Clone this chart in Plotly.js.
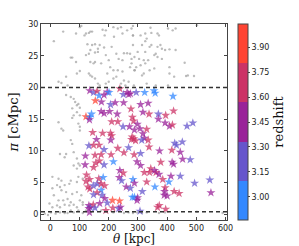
<!DOCTYPE html>
<html><head><meta charset="utf-8">
<script src="https://cdn.plot.ly/plotly-3.0.1.min.js"></script>
<style>html,body{margin:0;padding:0;background:#fff}</style>
</head><body>
<div id="chart" style="width:299px;height:246px"></div>
<script>
// Background (gray) sample: theta [kpc], pi [cMpc]
const grayTheta = [12,44,101,106,88,117,122,132,137,143,179,186,190,216,218,231,242,247,263,283,278,127,143,153,163,169,184,137,153,163,70,75,122,132,88,137,148,153,174,190,200,210,226,234,252,263,273,278,289,278,273,247,101,91,54,28,38,59,132,137,143,153,163,169,190,200,216,226,242,252,257,268,205,216,231,247,195,54,70,80,85,91,75,101,96,91,80,75,101,
283,283,309,325,346,343,367,372,403,419,429,502,283,314,325,330,340,346,367,377,382,393,408,429,299,325,356,361,367,288,304,320,335,382,325,309,294,288,340,356,320,314,408,460,408,424,465,471,492,286,330,361,403,
28,44,38,70,75,101,101,96,33,49,54,80,91,96,101,91,80,7,28,38,23,33,49,65,70,91,96,111,38,54,75,91,106,12,28,44,59,70,101,111,-3,7,23,33,49,65,80,91,111,-19,-8,2,18,33,49,59,70,80,96,111,122,174,216,252,268,7,283,297,314,330,372,393,502,590];
const grayPi = [27.3,28.8,29.5,29.7,28.5,28.2,28.5,28.6,28.8,28.8,29.1,28.2,29.0,29.5,28.0,29.3,29.5,28.5,29.0,28.2,29.3,26.8,26.7,26.8,26.1,26.7,26.3,25.9,25.5,25.6,24.7,24.7,25.1,25.3,24.0,24.0,23.8,24.0,23.8,25.1,24.3,26.4,25.3,24.5,25.4,25.4,25.3,24.5,22.7,23.8,23.2,24.3,22.6,22.2,21.7,20.9,20.7,20.3,22.2,21.9,21.7,21.4,20.6,20.3,20.6,20.9,21.4,21.7,20.6,21.1,20.3,20.9,23.2,22.7,22.7,22.5,22.2,18.8,18.5,18.2,17.7,17.2,16.7,16.8,17.4,16.1,15.6,15.2,15.6,
29.7,28.2,28.2,28.5,28.6,29.4,28.5,28.2,29.3,29.0,29.3,29.8,26.7,26.7,27.3,27.7,26.4,26.7,26.4,26.7,26.1,25.9,26.0,25.9,25.6,25.6,25.1,25.3,24.8,24.8,24.5,24.3,24.3,24.5,23.8,23.5,23.2,22.7,22.7,23.0,22.2,21.9,23.2,23.9,22.2,21.7,21.8,21.9,21.8,20.3,20.6,20.3,20.3,
14.5,13.2,13.5,11.7,11.1,13.8,13.2,14.3,9.5,9.0,9.5,9.8,8.8,8.0,7.7,7.2,7.7,5.9,5.6,5.3,4.6,4.3,4.6,4.8,5.3,5.1,5.9,5.6,3.8,3.5,3.2,3.5,3.0,3.0,2.2,2.2,2.4,1.9,2.2,1.9,1.7,1.1,1.4,1.1,1.5,1.4,1.5,1.1,1.5,0.1,-0.1,0.3,0.1,0.3,0.2,0.2,0.6,0.3,0.6,0.2,0.6,0.6,0.3,0.2,0.3,4.1,0.2,0.3,0.2,0.3,0.2,0.3,0.4,0.2];

// Selected pairs: theta [kpc], pi [cMpc], redshift
const starTheta = [135,148,160,167,184,195,201,154,175,206,222,238,250,263,268,274,251,276,174,184,203,229,122,135,141,281,294,
323,355,359,420,309,335,317,338,370,395,422,370,
468,488,393,408,418,426,432,452,416,445,374,378,417,422,453,479,344,362,413,385,445,406,494,546,358,330,393,391,424,441,390,400,550,373,367,395,
285,288,298,307,317,330,322,335,280,286,292,313,338,287,309,297,309,322,340,357,372,283,288,315,288,299,297,307,
134,210,231,249,271,206,210,145,179,158,132,148,167,184,207,231,268,278,120,153,174,208,216,252,119,156,168,184,148,238,250,124,166,181,122,135,161,174,186,236,244,260,274,281,129,135,147,174,160,148,177,186,195,213,237,169,132,137,147,132,153,190,214,234,240,134];
const starPi = [19.5,19.2,19.4,18.7,18.8,19.3,19.2,17.9,17.7,17.3,17.6,19.8,18.9,19.2,18.9,19.0,17.6,16.6,16.2,15.9,16.2,15.8,15.4,15.3,15.8,15.3,19.2,
19.2,19.5,19.1,18.6,17.3,17.5,16.1,15.8,15.8,15.6,16.3,15.0,
13.9,14.4,14.4,13.9,14.1,11.2,10.9,11.4,10.1,9.8,10.0,8.2,8.2,7.9,8.7,8.6,7.2,6.6,6.0,5.5,6.0,5.1,4.9,5.4,4.3,5.1,4.2,3.6,3.6,3.3,3.0,2.9,3.4,1.4,1.1,0.8,
14.7,13.3,14.2,13.5,12.7,13.4,12.0,11.7,12.2,11.9,11.6,11.7,10.6,9.4,9.6,8.3,7.7,6.6,6.6,6.9,6.3,5.5,4.9,3.6,2.7,2.6,2.2,0.5,
14.9,14.6,14.6,13.8,13.8,12.8,12.4,12.9,12.8,11.8,10.8,10.9,10.9,10.2,11.7,10.4,10.5,11.8,9.2,9.3,9.4,9.4,8.3,9.7,7.8,8.1,8.4,7.8,7.4,6.9,6.5,6.2,5.6,5.8,5.2,5.5,4.8,4.8,4.5,5.8,5.3,4.3,4.1,2.7,4.3,4.0,4.5,3.8,3.4,3.1,3.0,2.5,1.8,2.2,2.1,1.7,1.4,1.1,1.5,0.9,1.0,0.6,1.0,0.9,1.1,0.3];
const starZ = [3.45,3.2,3.7,2.95,3.45,3.45,2.95,3.95,3.45,3.2,3.45,3.7,3.2,3.45,3.45,3.45,3.45,3.7,3.45,3.45,3.45,3.45,3.95,2.95,2.95,3.7,3.2,
2.95,2.95,2.95,2.95,3.45,3.45,3.45,3.7,3.2,3.7,3.7,3.45,
3.2,3.2,3.45,3.45,3.7,3.2,3.2,3.2,3.7,3.45,3.45,3.7,3.45,3.45,3.45,3.2,3.7,3.7,3.45,3.7,3.2,2.95,3.2,3.2,2.95,3.7,3.7,3.45,3.7,3.7,3.45,3.45,3.45,3.7,3.7,3.7,
3.7,3.45,3.45,3.45,3.45,3.7,3.45,3.7,3.7,3.7,3.7,3.2,3.7,3.7,3.2,3.45,3.45,3.7,3.7,3.45,3.45,2.95,3.45,3.2,2.95,3.45,3.45,3.2,
3.45,3.7,3.7,3.2,3.45,3.7,3.7,3.7,3.7,3.45,3.2,3.7,3.7,3.2,3.45,3.7,3.2,3.7,3.45,3.7,3.7,3.7,2.95,3.7,3.45,3.7,3.7,3.2,3.7,3.45,3.7,3.7,3.7,2.95,3.7,3.7,3.2,3.7,3.7,3.45,3.2,3.45,3.2,2.95,3.7,3.7,3.2,2.95,3.7,3.2,3.2,3.45,3.2,3.95,3.95,3.45,3.45,3.2,3.7,3.45,3.2,3.7,3.7,3.2,3.45,3.45];

const cutPi = [20, 0.4];
const zTicks = [3.00,3.15,3.30,3.45,3.60,3.75,3.90];
const zTickText = ['3.00','3.15','3.30','3.45','3.60','3.75','3.90'];
const xTicks = [0,100,200,300,400,500,600];
const yTicks = [0,5,10,15,20,25,30];

const bandColors = ['#3388ff','#6655cc','#992299','#cc3366','#ff4433'];
const cs = [];
bandColors.forEach((c,i)=>{cs.push([i/5,c]);cs.push([(i+1)/5,c]);});

const serif = 'DejaVu Serif, Liberation Serif, serif';
const sans = 'DejaVu Sans, sans-serif';

const traces = [
 {type:'scatter',mode:'markers',x:grayTheta,y:grayPi,hoverinfo:'skip',
  marker:{symbol:'circle',size:2.4,color:'#a0a0a0',opacity:0.7,line:{width:0}},showlegend:false},
 {type:'scatter',mode:'markers',x:starTheta,y:starPi,showlegend:false,
  marker:{symbol:'star',size:6.8,color:starZ,colorscale:cs,cmin:2.86,cmax:4.04,opacity:0.75,
   line:{width:0},
   colorbar:{x:1.057,xanchor:'left',xpad:0,y:0.5,yanchor:'middle',ypad:0,len:1,lenmode:'fraction',
    thickness:10,outlinewidth:1,outlinecolor:'#444',tickvals:zTicks,ticktext:zTickText,
    ticks:'outside',ticklen:2,tickcolor:'#444',tickfont:{family:sans,size:8,color:'#222'},
    title:{text:'redshift',side:'right',font:{family:serif,size:13,color:'#111'}}}}}
];

const shapes = cutPi.map(v=>({type:'line',xref:'paper',x0:0,x1:1,yref:'y',y0:v,y1:v,
  line:{color:'#333',width:1.5,dash:'4px,3px'}}));

const layout = {
 width:299,height:246,margin:{l:41,r:54,t:24,b:26,pad:0},
 paper_bgcolor:'#fff',plot_bgcolor:'#fff',showlegend:false,
 xaxis:{range:[-32,605],tickvals:xTicks,ticks:'inside',ticklen:3,tickcolor:'#444',showgrid:false,zeroline:false,
  showline:true,linecolor:'#444',linewidth:1,mirror:'ticks',tickfont:{family:sans,size:8,color:'#222'},
  automargin:false,
  title:{text:'<i>θ</i> [kpc]',font:{family:serif,size:12,color:'#111'},standoff:7}},
 yaxis:{range:[-0.9,30],tickvals:yTicks,ticks:'inside',ticklen:3,tickcolor:'#444',showgrid:false,zeroline:false,
  showline:true,linecolor:'#444',linewidth:1,mirror:'ticks',tickfont:{family:sans,size:8,color:'#222'},
  title:{text:'<i>π</i> [cMpc]',font:{family:serif,size:13,color:'#111'},standoff:6}},
 shapes:shapes
};
Plotly.newPlot('chart',traces,layout,{displayModeBar:false,staticPlot:true});
</script>
</body></html>
